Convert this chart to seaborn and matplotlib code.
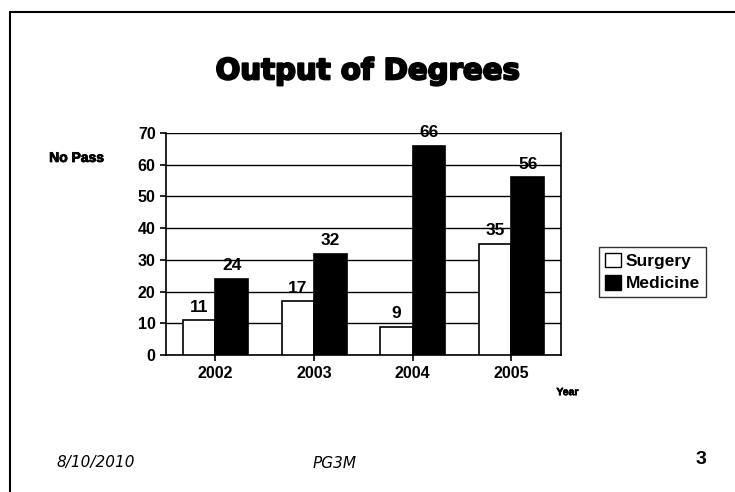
import pandas as pd
import seaborn as sns
import matplotlib.pyplot as plt
import matplotlib.patheffects as pe
from matplotlib.lines import Line2D

# Data
years = ["2002", "2003", "2004", "2005"]
surgery = [11, 17, 9, 35]
medicine = [24, 32, 66, 56]

df = pd.DataFrame({
    "Year": years * 2,
    "Course": ["Surgery"] * 4 + ["Medicine"] * 4,
    "No Pass": surgery + medicine,
})

sns.set_style("white")
plt.rcParams["font.family"] = ["Liberation Sans", "DejaVu Sans"]
plt.rcParams["text.color"] = "black"
plt.rcParams["xtick.color"] = "black"
plt.rcParams["ytick.color"] = "black"

fig = plt.figure(figsize=(7.35, 4.92), dpi=100)
ax = fig.add_axes([0.226, 0.278, 0.537, 0.452])

sns.barplot(data=df, x="Year", y="No Pass", hue="Course",
            palette={"Surgery": "white", "Medicine": "black"},
            edgecolor="black", linewidth=1.2, width=0.66, gap=0.0,
            ax=ax, zorder=3)

ax.set_ylim(0, 70)
ax.set_yticks(range(0, 71, 10))
ax.yaxis.grid(True, color="black", linewidth=1.0, zorder=0)
ax.tick_params(axis="both", labelsize=11.5, length=4, width=1.2)
ax.tick_params(axis="y", left=True)
ax.tick_params(axis="x", bottom=True)
for lbl in ax.get_xticklabels() + ax.get_yticklabels():
    lbl.set_fontweight("bold")
ax.spines["top"].set_visible(False)
for s in ["left", "bottom", "right"]:
    ax.spines[s].set_color("black")
    ax.spines[s].set_linewidth(1.2)
ax.set_xlabel("")
ax.set_ylabel("")

# value labels
for cont in ax.containers:
    ax.bar_label(cont, padding=4, fontsize=12.5, fontweight="bold")

ax.legend_.remove()
handles = [plt.Rectangle((0, 0), 1, 1, facecolor="white", edgecolor="black"),
           plt.Rectangle((0, 0), 1, 1, facecolor="black", edgecolor="black")]
fig.legend(handles, ["Surgery", "Medicine"], loc="center left",
           bbox_to_anchor=(0.803, 0.447), frameon=True, fancybox=False,
           edgecolor="black", handlelength=0.9, handleheight=0.9,
           handletextpad=0.3, borderpad=0.35, labelspacing=0.35,
           prop={"weight": "bold", "size": 12.5})

fig.text(0.5, 0.855, "Output of Degrees", ha="center", va="center",
         fontsize=21, fontweight="bold", family="DejaVu Sans",
         path_effects=[pe.withStroke(linewidth=1.5, foreground="black")])
fig.text(0.104, 0.679, "No Pass", ha="center", va="center",
         fontsize=10, fontweight="bold",
         path_effects=[pe.withStroke(linewidth=0.6, foreground="black")])
fig.text(0.772, 0.203, "Year", ha="center", va="center",
         fontsize=7.5, fontweight="bold",
         path_effects=[pe.withStroke(linewidth=0.5, foreground="black")])

# handwritten footer
fig.text(0.13, 0.06, "8/10/2010", ha="center", va="center",
         fontsize=11, style="italic", family="DejaVu Sans")
fig.text(0.455, 0.058, "PG3M", ha="center", va="center",
         fontsize=11, style="italic", family="DejaVu Sans")
fig.text(0.953, 0.066, "3", ha="center", va="center",
         fontsize=14, fontweight="bold")

# page border
fig.add_artist(Line2D([0.014, 0.014], [0.0, 0.976], color="black",
                      linewidth=1.5, transform=fig.transFigure))
fig.add_artist(Line2D([0.014, 1.0], [0.976, 0.976], color="black",
                      linewidth=1.5, transform=fig.transFigure))

plt.savefig("out.png", dpi=100)
